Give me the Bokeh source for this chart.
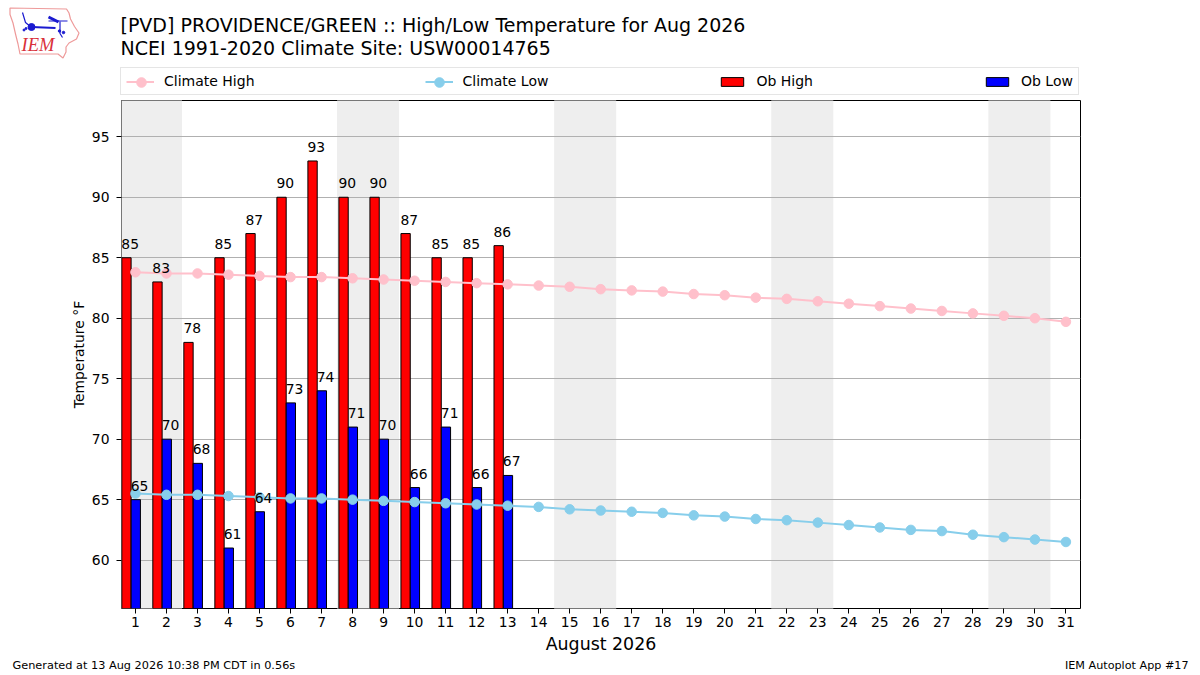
from bokeh.plotting import figure
from bokeh.layouts import column
from bokeh.embed import file_html
from bokeh.resources import INLINE
from bokeh.core.properties import value
from bokeh.models import FixedTicker, Legend, LegendItem, Range1d

days = list(range(1, 32))
ob_days = list(range(1, 14))
ob_high = [85, 83, 78, 85, 87, 90, 93, 90, 90, 87, 85, 85, 86]
ob_low = [65, 70, 68, 61, 64, 73, 74, 71, 70, 66, 71, 66, 67]
climate_high = [83.8, 83.7, 83.7, 83.6, 83.5, 83.4, 83.4, 83.3, 83.2, 83.1, 83.0, 82.9, 82.8, 82.7, 82.6, 82.4,
                82.3, 82.2, 82.0, 81.9, 81.7, 81.6, 81.4, 81.2, 81.0, 80.8, 80.6, 80.4, 80.2, 80.0, 79.7]
climate_low = [65.5, 65.4, 65.4, 65.3, 65.2, 65.1, 65.1, 65.0, 64.9, 64.8, 64.7, 64.6, 64.5, 64.4, 64.2, 64.1,
               64.0, 63.9, 63.7, 63.6, 63.4, 63.3, 63.1, 62.9, 62.7, 62.5, 62.4, 62.1, 61.9, 61.7, 61.5]
weekend_starts = [1, 8, 15, 22, 29]
y_ticks = [60, 65, 70, 75, 80, 85, 90, 95]
title_1 = "[PVD] PROVIDENCE/GREEN :: High/Low Temperature for Aug 2026"
title_2 = "NCEI 1991-2020 Climate Site: USW00014765"
footer_left = "Generated at 13 Aug 2026 10:38 PM CDT in 0.56s"
footer_right = "IEM Autoplot App #17"

FONT = "DejaVu Sans"
W = 1200
HEADER_H, MAIN_H, FOOTER_H = 96, 560, 19


def decor(h):
    """A bare strip whose data units are the strip's own pixels, for titles, logo, legend and footer."""
    f = figure(width=W, height=h, output_backend="svg", toolbar_location=None,
               x_range=Range1d(0, W), y_range=Range1d(h, 0), frame_align=False,
               min_border_left=0, min_border_right=0, min_border_top=0, min_border_bottom=0)
    f.axis.visible = False
    f.grid.visible = False
    f.outline_line_color = None
    return f


# ---- header: logo, titles, legend
head = decor(HEADER_H)
iowa_x = [9.5, 66, 68.5, 70, 74, 78.5, 76, 68.5, 65.5, 65.5, 62.5, 57.5, 19.5, 17.5, 15, 12.5, 9.5]
iowa_y = [7.5, 8.5, 12.5, 18.5, 26, 32.5, 38.5, 42.5, 46.5, 51.5, 57.5, 53.5, 53.5, 43.5, 33.5, 22.5, 14]
head.patch(iowa_x, iowa_y, fill_color="white", line_color="#ee9a9a", line_width=1.2)
logo_blue = "#1a1ad0"
head.line([22, 25, 31], [12, 22, 27], line_color=logo_blue, line_width=1.2)
head.line([31, 55], [26.5, 27.5], line_color=logo_blue, line_width=2.2)
head.line([48, 67], [20.5, 20.5], line_color=logo_blue, line_width=1.2)
head.line([48, 58], [16.5, 21.5], line_color=logo_blue, line_width=3)
head.line([59.5, 59.5, 62], [21, 33, 37], line_color=logo_blue, line_width=1.2)
head.scatter([31, 23.5, 25.5, 59, 63], [26.5, 29.5, 28, 30.5, 32], size=[7, 2, 2, 2.5, 2.5],
             fill_color=logo_blue, line_color=logo_blue)
head.text([21], [44], text=["IEM"], text_font=value("Liberation Serif"), text_font_style="italic",
          text_font_size="18.5px", text_color="#d9303a", text_baseline="middle")
head.text([120, 120], [24, 47], text=[title_1, title_2], text_font=value(FONT), text_font_size="19px",
          text_color="black", text_baseline="middle")

# The legend keys are drawn from one point each, placed beyond the strip's right edge.
off_x, off_y = [W + 50], [10]
k_ch = [head.line(off_x, off_y, line_color="pink", line_width=2)]
k_cl = [head.line(off_x, off_y, line_color="skyblue", line_width=2)]
k_oh = [head.vbar(x=off_x, width=1, bottom=[0], top=off_y, fill_color="red", line_color="black", line_width=1)]
k_ol = [head.vbar(x=off_x, width=1, bottom=[0], top=off_y, fill_color="blue", line_color="black", line_width=1)]
legend = Legend(items=[LegendItem(label="Climate High", renderers=k_ch),
                       LegendItem(label="Climate Low", renderers=k_cl),
                       LegendItem(label="Ob High", renderers=k_oh),
                       LegendItem(label="Ob Low", renderers=k_ol)],
                orientation="horizontal", location=(120, 1), spacing=170, padding=5, margin=0,
                glyph_width=28, glyph_height=11, label_standoff=10,
                label_text_font=FONT, label_text_font_size="14px", label_text_color="black",
                border_line_color="#cccccc", border_line_width=1, background_fill_alpha=1)
head.add_layout(legend, "center")

# Legend dots scale with the key height, so the two full-size dots get borderless keys of their own.
for colour, key_x in (("pink", 126.5), ("skyblue", 424.5)):
    dot = head.scatter(off_x, off_y, size=9.5, fill_color=colour, line_color=colour)
    head.add_layout(Legend(items=[LegendItem(label=" ", renderers=[dot])], location=(key_x, 2.5),
                           padding=0, margin=0, glyph_width=28, glyph_height=24, label_standoff=0,
                           label_text_font_size="1px", border_line_color=None,
                           background_fill_alpha=0), "center")

# ---- main chart
p = figure(width=W, height=MAIN_H, output_backend="svg", toolbar_location=None,
           x_range=Range1d(0.55, 31.47), y_range=Range1d(56, 98), frame_align=False,
           min_border_left=121, min_border_right=120, min_border_top=4, min_border_bottom=48)
p.outline_line_color = "black"
p.outline_line_width = 1
p.xgrid.visible = False
p.ygrid.grid_line_color = "#b0b0b0"
p.ygrid.grid_line_width = 1
p.ygrid.ticker = FixedTicker(ticks=y_ticks)

for ax in (p.xaxis[0], p.yaxis[0]):
    ax.major_label_text_font = FONT
    ax.major_label_text_font_size = "13.9px"
    ax.major_label_text_color = "black"
    ax.axis_label_text_font = FONT
    ax.axis_label_text_font_style = "normal"
    ax.axis_label_text_color = "black"
    ax.axis_line_color = None
    ax.major_tick_line_color = "black"
    ax.major_tick_out = 5
    ax.major_tick_in = 0
    ax.minor_tick_line_color = None
p.xaxis[0].ticker = FixedTicker(ticks=days)
p.yaxis[0].ticker = FixedTicker(ticks=y_ticks)
p.xaxis[0].axis_label = "August 2026"
p.xaxis[0].axis_label_text_font_size = "17.4px"
p.xaxis[0].axis_label_standoff = 4
p.yaxis[0].axis_label = "Temperature °F"
p.yaxis[0].axis_label_text_font_size = "13.9px"
p.yaxis[0].axis_label_standoff = 2
p.yaxis[0].major_label_standoff = 7
p.xaxis[0].major_label_standoff = 3

p.quad(left=[d - 0.5 for d in weekend_starts], right=[d + 1.5 for d in weekend_starts],
       bottom=0, top=200, fill_color="#eeeeee", line_color=None, level="image")

bw = 0.3
p.vbar(x=[d - 0.29 for d in ob_days], width=bw, bottom=0, top=ob_high,
       fill_color="red", line_color="black", line_width=1)
p.vbar(x=[d + 0.01 for d in ob_days], width=bw, bottom=0, top=ob_low,
       fill_color="blue", line_color="black", line_width=1)

p.line(days, climate_high, line_color="pink", line_width=2)
p.scatter(days, climate_high, size=9.5, fill_color="pink", line_color="pink")
p.line(days, climate_low, line_color="skyblue", line_width=2)
p.scatter(days, climate_low, size=9.5, fill_color="skyblue", line_color="skyblue")

p.text([d - 0.17 for d in ob_days], ob_high, text=[str(v) for v in ob_high], text_align="center",
       text_baseline="alphabetic", y_offset=-14, text_font=value(FONT), text_font_size="13.9px", text_color="black")
p.text([d + 0.13 for d in ob_days], ob_low, text=[str(v) for v in ob_low], text_align="center",
       text_baseline="alphabetic", y_offset=-14, text_font=value(FONT), text_font_size="13.9px", text_color="black")

# ---- footer
foot = decor(FOOTER_H)
foot.text([12], [9], text=[footer_left], text_font=value(FONT), text_font_size="11.3px",
          text_color="black", text_baseline="middle")
foot.text([1188], [9], text=[footer_right], text_font=value(FONT), text_font_size="11.2px",
          text_color="black", text_align="right", text_baseline="middle")

page = column(head, p, foot, spacing=0)
open("out.html", "w").write(file_html(page, INLINE))
